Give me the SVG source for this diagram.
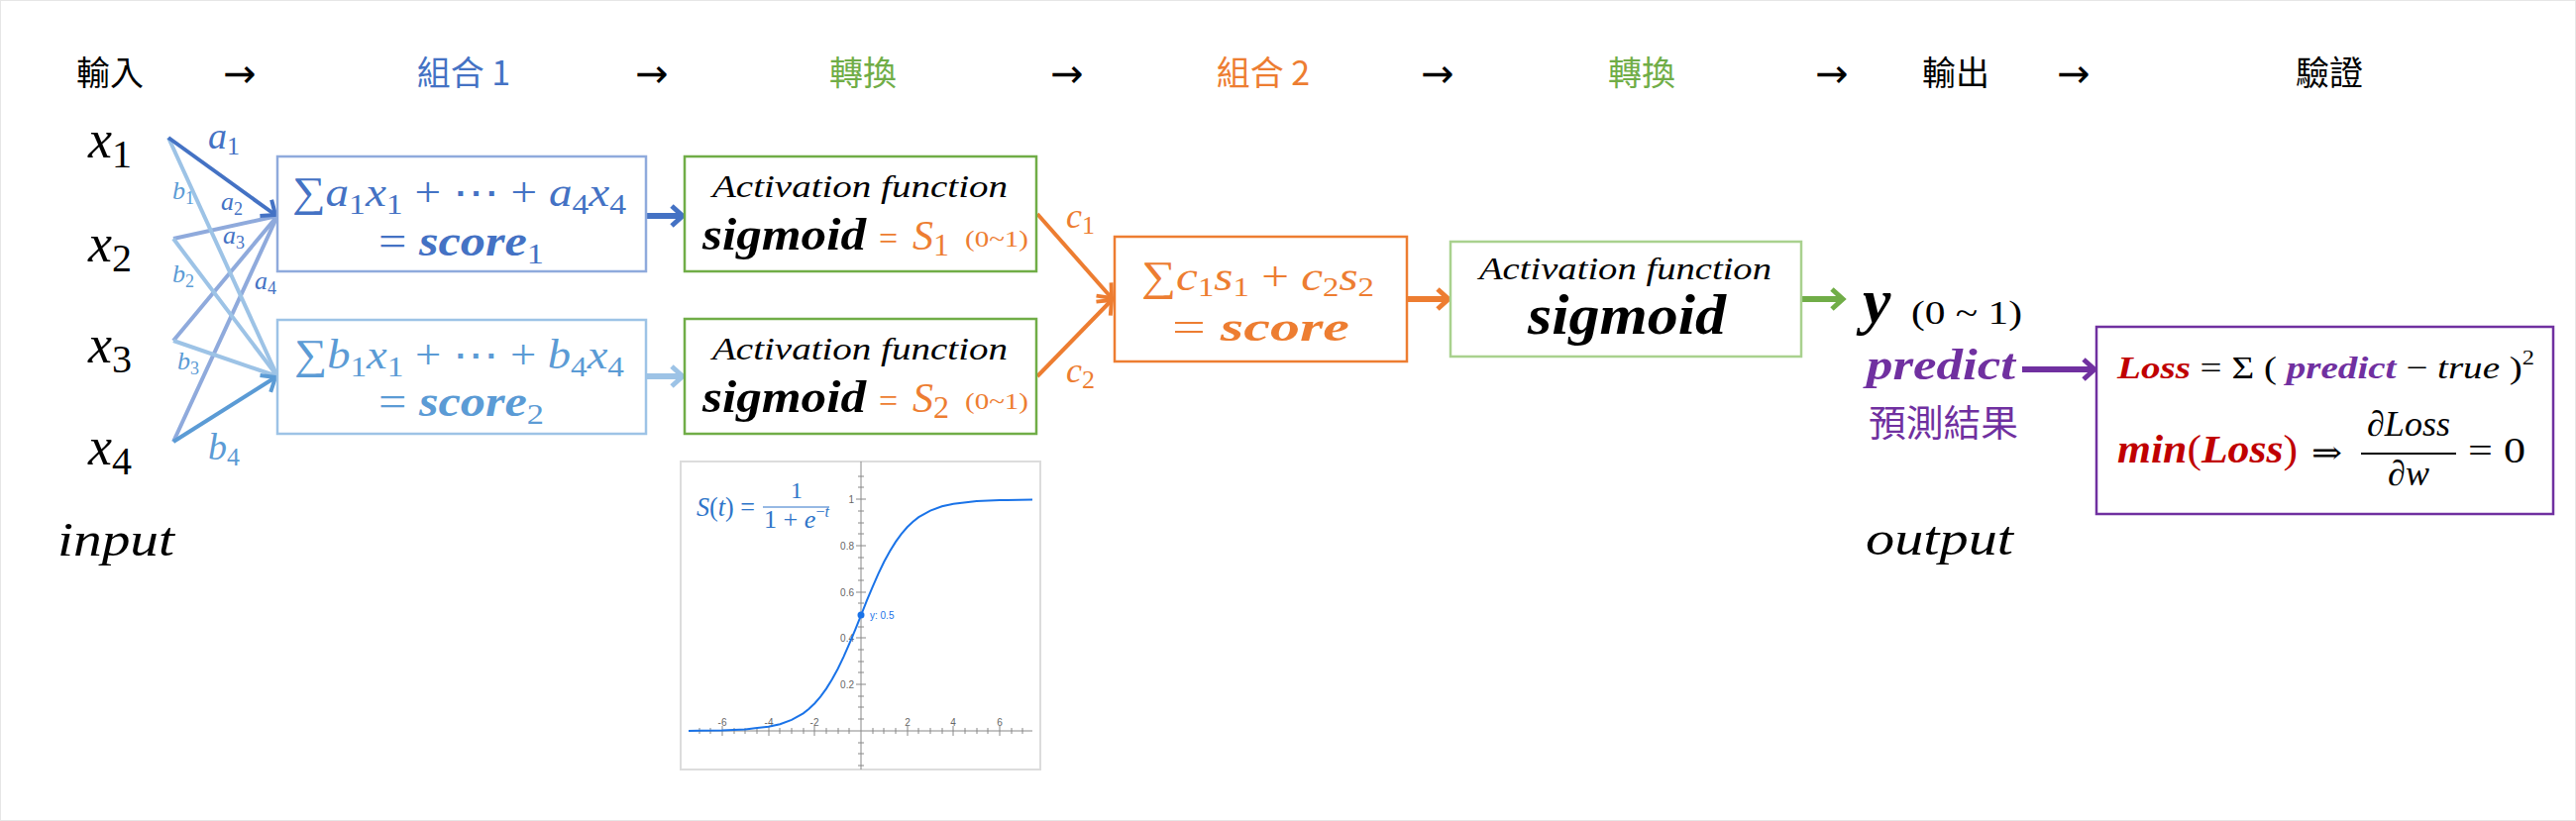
<svg xmlns="http://www.w3.org/2000/svg" width="2600" height="829" viewBox="0 0 2600 829">
<style>
.hd{font-family:"Noto Sans CJK TC","Noto Sans CJK SC",sans-serif;font-size:34px;text-anchor:middle}
.ar{font-family:"DejaVu Sans","Liberation Sans",sans-serif;font-size:40px;text-anchor:middle}
.m{font-family:"Liberation Serif","DejaVu Serif",serif}
.i{font-style:italic}
.b{font-weight:bold}
.n{font-style:normal;font-weight:normal}
.box{fill:#fff;stroke-width:2.5}
.ln{fill:none;stroke-width:4}
.th{fill:none;stroke-width:6}
.cjk{font-family:"Noto Sans CJK TC","Noto Sans CJK SC",sans-serif}
.tk{font-family:"Liberation Sans",Arial,sans-serif;font-size:10px;fill:#666}
</style>
<defs>
<marker id="mDB" viewBox="0 0 24 24" refX="18" refY="12" markerWidth="24" markerHeight="24" markerUnits="userSpaceOnUse" orient="auto"><path d="M6,2 L18,12 L6,22" fill="none" stroke="#4472C4" stroke-width="4"/></marker>
<marker id="mB4" viewBox="0 0 24 24" refX="18" refY="12" markerWidth="24" markerHeight="24" markerUnits="userSpaceOnUse" orient="auto"><path d="M6,2 L18,12 L6,22" fill="none" stroke="#5B9BD5" stroke-width="4"/></marker>
<marker id="mOr" viewBox="0 0 24 24" refX="18" refY="12" markerWidth="24" markerHeight="24" markerUnits="userSpaceOnUse" orient="auto"><path d="M6,2 L18,12 L6,22" fill="none" stroke="#ED7D31" stroke-width="4"/></marker>
<marker id="tDB" viewBox="0 0 24 24" refX="18" refY="12" markerWidth="24" markerHeight="24" markerUnits="userSpaceOnUse" orient="auto"><path d="M7,2 L18,12 L7,22" fill="none" stroke="#4472C4" stroke-width="5"/></marker>
<marker id="tLB" viewBox="0 0 24 24" refX="18" refY="12" markerWidth="24" markerHeight="24" markerUnits="userSpaceOnUse" orient="auto"><path d="M7,2 L18,12 L7,22" fill="none" stroke="#9DC3E6" stroke-width="5"/></marker>
<marker id="tOr" viewBox="0 0 24 24" refX="18" refY="12" markerWidth="24" markerHeight="24" markerUnits="userSpaceOnUse" orient="auto"><path d="M7,2 L18,12 L7,22" fill="none" stroke="#ED7D31" stroke-width="5"/></marker>
<marker id="tGr" viewBox="0 0 24 24" refX="18" refY="12" markerWidth="24" markerHeight="24" markerUnits="userSpaceOnUse" orient="auto"><path d="M7,2 L18,12 L7,22" fill="none" stroke="#70AD47" stroke-width="5"/></marker>
<marker id="tPu" viewBox="0 0 24 24" refX="18" refY="12" markerWidth="24" markerHeight="24" markerUnits="userSpaceOnUse" orient="auto"><path d="M7,2 L18,12 L7,22" fill="none" stroke="#7030A0" stroke-width="5"/></marker>
</defs>
<rect x="0.5" y="0.5" width="2599" height="828" fill="#fff" stroke="#e6e6e6"/>

<g id="header">
<text class="hd" x="111" y="86" fill="#000">輸入</text>
<text class="ar" x="242" y="88">→</text>
<text class="hd" x="468" y="86" fill="#4472C4">組合 1</text>
<text class="ar" x="658" y="88">→</text>
<text class="hd" x="871" y="86" fill="#70AD47">轉換</text>
<text class="ar" x="1077" y="88">→</text>
<text class="hd" x="1275" y="86" fill="#ED7D31">組合 2</text>
<text class="ar" x="1451" y="88">→</text>
<text class="hd" x="1657" y="86" fill="#70AD47">轉換</text>
<text class="ar" x="1849" y="88">→</text>
<text class="hd" x="1974" y="86" fill="#000">輸出</text>
<text class="ar" x="2093" y="88">→</text>
<text class="hd" x="2351" y="86" fill="#000">驗證</text>
</g>

<g id="inputs" class="m i" font-size="54">
<text x="89" y="159">x<tspan class="n" font-size="40" dy="10">1</tspan></text>
<text x="89" y="264">x<tspan class="n" font-size="40" dy="10">2</tspan></text>
<text x="89" y="366">x<tspan class="n" font-size="40" dy="10">3</tspan></text>
<text x="89" y="469">x<tspan class="n" font-size="40" dy="10">4</tspan></text>
<text x="58" y="561" font-size="48" textLength="118" lengthAdjust="spacingAndGlyphs">input</text>
</g>

<g id="connectors">
<line class="ln" x1="175" y1="446" x2="280" y2="218" stroke="#8FAADC"/>
<line class="ln" x1="175" y1="344" x2="280" y2="218" stroke="#8FAADC"/>
<line class="ln" x1="175" y1="241" x2="280" y2="218" stroke="#8FAADC"/>
<line class="ln" x1="170" y1="139" x2="280" y2="380" stroke="#9DC3E6"/>
<line class="ln" x1="175" y1="241" x2="280" y2="380" stroke="#9DC3E6"/>
<line class="ln" x1="175" y1="344" x2="280" y2="380" stroke="#9DC3E6"/>
<line class="ln" x1="170" y1="139" x2="278" y2="217" stroke="#4472C4" marker-end="url(#mDB)"/>
<line class="ln" x1="175" y1="446" x2="278" y2="381" stroke="#5B9BD5" marker-end="url(#mB4)"/>
<line class="th" x1="652" y1="218" x2="689" y2="218" stroke="#4472C4" marker-end="url(#tDB)"/>
<line class="th" x1="652" y1="380" x2="689" y2="380" stroke="#9DC3E6" marker-end="url(#tLB)"/>
<line class="ln" x1="1047" y1="216" x2="1122" y2="301" stroke="#ED7D31" marker-end="url(#mOr)"/>
<line class="ln" x1="1047" y1="380" x2="1122" y2="303" stroke="#ED7D31" marker-end="url(#mOr)"/>
<line class="th" x1="1421" y1="302" x2="1462" y2="302" stroke="#ED7D31" marker-end="url(#tOr)"/>
<line class="th" x1="1819" y1="302" x2="1860" y2="302" stroke="#70AD47" marker-end="url(#tGr)"/>
<line class="th" x1="2041" y1="373" x2="2114" y2="373" stroke="#7030A0" marker-end="url(#tPu)"/>
<g class="m i">
<text x="210" y="150" font-size="38" fill="#4472C4">a<tspan class="n" font-size="26" dy="6">1</tspan></text>
<text x="174" y="201" font-size="26" fill="#5B9BD5">b<tspan class="n" font-size="18" dy="5">1</tspan></text>
<text x="223" y="212" font-size="26" fill="#4472C4">a<tspan class="n" font-size="18" dy="5">2</tspan></text>
<text x="225" y="246" font-size="26" fill="#4472C4">a<tspan class="n" font-size="18" dy="5">3</tspan></text>
<text x="174" y="285" font-size="26" fill="#5B9BD5">b<tspan class="n" font-size="18" dy="5">2</tspan></text>
<text x="257" y="292" font-size="26" fill="#4472C4">a<tspan class="n" font-size="18" dy="5">4</tspan></text>
<text x="179" y="373" font-size="26" fill="#5B9BD5">b<tspan class="n" font-size="18" dy="5">3</tspan></text>
<text x="210" y="464" font-size="38" fill="#5B9BD5">b<tspan class="n" font-size="26" dy="6">4</tspan></text>
<text x="1076" y="230" font-size="36" fill="#ED7D31">c<tspan class="n" font-size="26" dy="6">1</tspan></text>
<text x="1076" y="386" font-size="36" fill="#ED7D31">c<tspan class="n" font-size="26" dy="6">2</tspan></text>
</g>
</g>

<g id="comb1">
<rect class="box" x="280" y="158" width="372" height="116" stroke="#8FAADC"/>
<text class="m i" x="295" y="208" font-size="42" fill="#4472C4" textLength="337" lengthAdjust="spacingAndGlyphs"><tspan class="n">∑</tspan>a<tspan class="n" font-size="30" dy="8">1</tspan><tspan dy="-8">x</tspan><tspan class="n" font-size="30" dy="8">1</tspan><tspan class="n" dy="-8"> + ⋯ + </tspan>a<tspan class="n" font-size="30" dy="8">4</tspan><tspan dy="-8">x</tspan><tspan class="n" font-size="30" dy="8">4</tspan></text>
<text class="m" x="382" y="258" font-size="44" fill="#4472C4" textLength="167" lengthAdjust="spacingAndGlyphs">= <tspan class="i b">score</tspan><tspan font-size="30" dy="8">1</tspan></text>
</g>

<g id="comb2">
<rect class="box" x="280" y="323" width="372" height="115" stroke="#9DC3E6"/>
<text class="m i" x="297" y="372" font-size="42" fill="#5B9BD5" textLength="333" lengthAdjust="spacingAndGlyphs"><tspan class="n">∑</tspan>b<tspan class="n" font-size="30" dy="8">1</tspan><tspan dy="-8">x</tspan><tspan class="n" font-size="30" dy="8">1</tspan><tspan class="n" dy="-8"> + ⋯ + </tspan>b<tspan class="n" font-size="30" dy="8">4</tspan><tspan dy="-8">x</tspan><tspan class="n" font-size="30" dy="8">4</tspan></text>
<text class="m" x="382" y="420" font-size="44" fill="#5B9BD5" textLength="167" lengthAdjust="spacingAndGlyphs">= <tspan class="i b">score</tspan><tspan font-size="30" dy="8">2</tspan></text>
</g>

<g id="act1">
<rect class="box" x="691" y="158" width="355" height="116" stroke="#70AD47"/>
<text class="m i" x="719" y="199" font-size="32" textLength="298" lengthAdjust="spacingAndGlyphs">Activation function</text>
<text class="m i b" x="709" y="252" font-size="46" textLength="165" lengthAdjust="spacingAndGlyphs">sigmoid</text>
<text class="m" x="887" y="252" font-size="34" fill="#ED7D31">=</text>
<text class="m i" x="921" y="252" font-size="42" fill="#ED7D31">S<tspan class="n" font-size="32" dy="6">1</tspan></text>
<text class="m" x="974" y="249" font-size="24" fill="#ED7D31" textLength="64" lengthAdjust="spacingAndGlyphs">(0~1)</text>
</g>

<g id="act2">
<rect class="box" x="691" y="322" width="355" height="116" stroke="#70AD47"/>
<text class="m i" x="719" y="363" font-size="32" textLength="298" lengthAdjust="spacingAndGlyphs">Activation function</text>
<text class="m i b" x="709" y="416" font-size="46" textLength="165" lengthAdjust="spacingAndGlyphs">sigmoid</text>
<text class="m" x="887" y="416" font-size="34" fill="#ED7D31">=</text>
<text class="m i" x="921" y="416" font-size="42" fill="#ED7D31">S<tspan class="n" font-size="32" dy="6">2</tspan></text>
<text class="m" x="974" y="413" font-size="24" fill="#ED7D31" textLength="64" lengthAdjust="spacingAndGlyphs">(0~1)</text>
</g>

<g id="graph">
<rect x="687" y="466" width="363" height="311" fill="#fff" stroke="#dcdcdc" stroke-width="2"/>
<g stroke="#888" stroke-width="1">
<line x1="695" y1="738" x2="1042" y2="738"/>
<line x1="869" y1="466" x2="869" y2="777"/>
<path d="M706,735v6M717,735v6M729,733v10M741,735v6M752,735v6M764,735v6M776,733v10M787,735v6M799,735v6M811,735v6M822,733v10M834,735v6M846,735v6M857,735v6M881,735v6M892,735v6M904,735v6M916,733v10M927,735v6M939,735v6M951,735v6M962,733v10M974,735v6M986,735v6M997,735v6M1009,733v10M1021,735v6M1032,735v6"/>
<path d="M866,481h6M866,492h6M864,504h10M866,516h6M866,528h6M866,539h6M864,551h10M866,563h6M866,574h6M866,586h6M864,598h10M866,609h6M866,621h6M866,633h6M864,644h10M866,656h6M866,668h6M866,679h6M864,691h10M866,703h6M866,714h6M866,726h6M866,750h6M866,761h6M866,773h6"/>
</g>
<text class="tk" x="862" y="508" text-anchor="end">1</text>
<text class="tk" x="862" y="555" text-anchor="end">0.8</text>
<text class="tk" x="862" y="602" text-anchor="end">0.6</text>
<text class="tk" x="862" y="648" text-anchor="end">0.4</text>
<text class="tk" x="862" y="695" text-anchor="end">0.2</text>
<text class="tk" x="729" y="733" text-anchor="middle">-6</text>
<text class="tk" x="776" y="733" text-anchor="middle">-4</text>
<text class="tk" x="822" y="733" text-anchor="middle">-2</text>
<text class="tk" x="916" y="733" text-anchor="middle">2</text>
<text class="tk" x="962" y="733" text-anchor="middle">4</text>
<text class="tk" x="1009" y="733" text-anchor="middle">6</text>
<polyline fill="none" stroke="#1a73e8" stroke-width="2" points="695,737.9 705.7,737.8 729,737.4 752.4,736.4 775.7,733.8 787.3,731.2 799,726.9 810.7,720.3 816.5,715.8 822.3,710.2 828.2,703.4 834,695.4 839.8,686 845.7,675.2 851.5,663.1 857.3,649.9 863.2,635.8 869,621.3 874.8,606.7 880.7,592.6 886.5,579.4 892.3,567.3 898.2,556.5 904,547.1 909.8,539.1 915.7,532.3 921.5,526.8 927.3,522.2 939,515.6 950.7,511.3 962.3,508.7 985.7,506.1 1009,505.1 1042,504.6"/>
<circle cx="869" cy="621" r="3.5" fill="#1a73e8"/>
<text x="878" y="625" font-family="Liberation Sans,Arial,sans-serif" font-size="10" fill="#1a73e8">y: 0.5</text>
<g class="m" fill="#2e75c9">
<text x="703" y="521" font-size="28" textLength="59" lengthAdjust="spacingAndGlyphs"><tspan class="i">S</tspan>(<tspan class="i">t</tspan>) =</text>
<text x="804" y="503" font-size="24" text-anchor="middle">1</text>
<line x1="770" y1="512" x2="837" y2="512" stroke="#2e75c9" stroke-width="1.2"/>
<text x="771" y="533" font-size="26" textLength="66" lengthAdjust="spacingAndGlyphs">1 + <tspan class="i">e</tspan><tspan font-size="16" dy="-11">−<tspan class="i">t</tspan></tspan></text>
</g>
</g>

<g id="comb3">
<rect class="box" x="1125" y="239" width="295" height="126" stroke="#ED7D31"/>
<text class="m i" x="1152" y="293" font-size="42" fill="#ED7D31" textLength="235" lengthAdjust="spacingAndGlyphs"><tspan class="n">∑</tspan>c<tspan class="n" font-size="28" dy="6">1</tspan><tspan dy="-6">s</tspan><tspan class="n" font-size="28" dy="6">1</tspan><tspan class="n" dy="-6"> + </tspan>c<tspan class="n" font-size="28" dy="6">2</tspan><tspan dy="-6">s</tspan><tspan class="n" font-size="28" dy="6">2</tspan></text>
<text class="m" x="1183" y="344" font-size="42" fill="#ED7D31" textLength="179" lengthAdjust="spacingAndGlyphs">= <tspan class="i b">score</tspan></text>
</g>

<g id="act3">
<rect class="box" x="1464" y="244" width="354" height="116" stroke="#A9D18E"/>
<text class="m i" x="1493" y="282" font-size="32" textLength="295" lengthAdjust="spacingAndGlyphs">Activation function</text>
<text class="m i b" x="1542" y="337" font-size="56" textLength="200" lengthAdjust="spacingAndGlyphs">sigmoid</text>
</g>

<g id="output">
<text class="m i b" x="1880" y="325" font-size="64">y</text>
<text class="m" x="1929" y="327" font-size="34" textLength="112" lengthAdjust="spacingAndGlyphs">(0 ~ 1)</text>
<text class="m i b" x="1884" y="383" font-size="44" fill="#7030A0" textLength="150" lengthAdjust="spacingAndGlyphs">predict</text>
<text class="cjk" x="1886" y="441" font-size="37" fill="#7030A0" textLength="151" lengthAdjust="spacingAndGlyphs">預測結果</text>
<text class="m i" x="1883" y="560" font-size="48" textLength="149" lengthAdjust="spacingAndGlyphs">output</text>
</g>

<g id="verify">
<rect class="box" x="2116" y="330" width="461" height="189" stroke="#7030A0"/>
<text class="m" x="2137" y="382" font-size="32" textLength="421" lengthAdjust="spacingAndGlyphs"><tspan class="i b" fill="#C00000">Loss</tspan> = Σ ( <tspan class="i b" fill="#7030A0">predict</tspan> − <tspan class="i">true</tspan> )<tspan font-size="20" dy="-14">2</tspan></text>
<text class="m" x="2137" y="467" font-size="40" fill="#C00000" textLength="182" lengthAdjust="spacingAndGlyphs"><tspan class="i b">min</tspan>(<tspan class="i b">Loss</tspan>)</text>
<text class="m" x="2333" y="468" font-size="32" textLength="31" lengthAdjust="spacingAndGlyphs">⇒</text>
<text class="m i" x="2431" y="440" font-size="36" text-anchor="middle">∂Loss</text>
<line x1="2383" y1="458" x2="2479" y2="458" stroke="#000" stroke-width="2"/>
<text class="m i" x="2431" y="490" font-size="36" text-anchor="middle">∂w</text>
<text class="m" x="2491" y="467" font-size="36" textLength="58" lengthAdjust="spacingAndGlyphs">= 0</text>
</g>
</svg>
